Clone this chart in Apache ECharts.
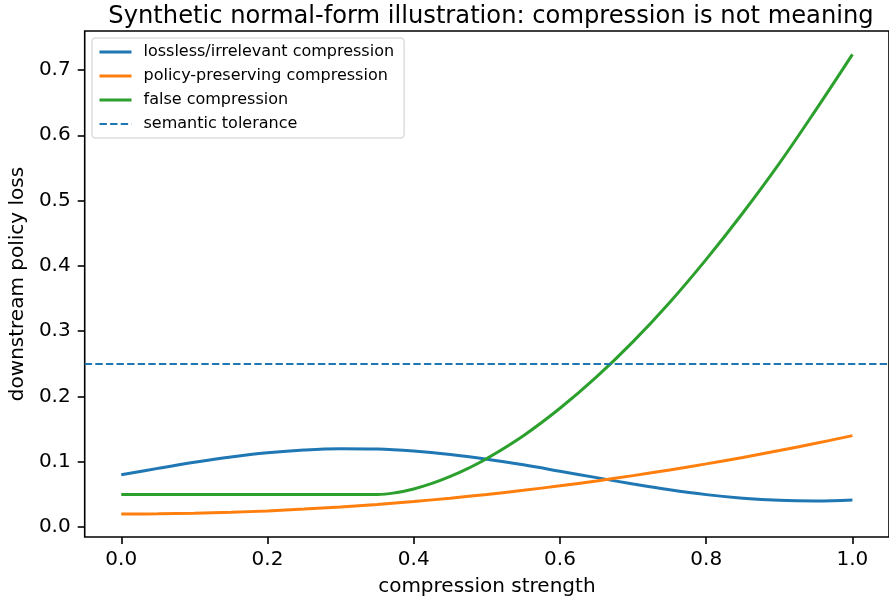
<!DOCTYPE html>
<html>
<head>
<meta charset="utf-8">
<script src="https://cdn.jsdelivr.net/npm/echarts@6/dist/echarts.min.js"></script>
<style>
  html, body { margin: 0; padding: 0; background: #fff; }
  #chart { width: 889px; height: 603px; }
</style>
</head>
<body>
<div id="chart"></div>
<script>
// values
const strength = [0, 0.05, 0.1, 0.15, 0.2, 0.25, 0.3, 0.35, 0.4, 0.45, 0.5,
  0.55, 0.6, 0.65, 0.7, 0.75, 0.8, 0.85, 0.9, 0.95, 1.0];
const losslessLoss = [0.080, 0.0899, 0.0992, 0.1073, 0.1137, 0.1180, 0.1199, 0.1194, 0.1164, 0.1111, 0.1039,
  0.0953, 0.0856, 0.0757, 0.0660, 0.0571, 0.0497, 0.0442, 0.0409, 0.0400, 0.0416];
const policyLoss = [0.020, 0.0203, 0.0212, 0.0227, 0.0248, 0.0275, 0.0308, 0.0347, 0.0392, 0.0443, 0.050,
  0.0563, 0.0632, 0.0707, 0.0788, 0.0875, 0.0968, 0.1067, 0.1172, 0.1283, 0.140];
// the false-compression curve bends near 0.35, so it is read at a finer step there
const falseStrength = [0, 0.1, 0.2, 0.3, 0.35, 0.375, 0.4, 0.425, 0.45, 0.475, 0.5,
  0.55, 0.6, 0.65, 0.7, 0.75, 0.8, 0.85, 0.9, 0.95, 1.0];
const falseLoss = [0.05, 0.05, 0.05, 0.05, 0.05, 0.0526, 0.0584, 0.0668, 0.0775, 0.0903, 0.105,
  0.140, 0.182, 0.230, 0.284, 0.344, 0.410, 0.481, 0.557, 0.639, 0.724];
const tolerance = 0.25;
const xTicks = [0, 0.2, 0.4, 0.6, 0.8, 1.0];
const yTicks = [0, 0.1, 0.2, 0.3, 0.4, 0.5, 0.6, 0.7];

const font = 'DejaVu Sans';
const pairs = (xs, ys) => xs.map((x, i) => [x, ys[i]]);

function lineSeries (name, color, xs, ys) {
  return {
    name: name,
    type: 'line',
    symbol: 'none',
    smooth: 0.4,
    data: pairs(xs, ys),
    color: color,
    lineStyle: { color: color, width: 3 }
  };
}

const chart = echarts.init(document.getElementById('chart'), null, { renderer: 'canvas' });

const option = {
  animation: false,
  backgroundColor: '#fff',
  title: {
    text: 'Synthetic normal-form illustration: compression is not meaning',
    left: 486,
    top: 0,
    textAlign: 'center',
    textStyle: { fontFamily: font, fontSize: 24.2, fontWeight: 'normal', color: '#000' }
  },
  grid: {
    left: 84,
    top: 31,
    width: 812,
    height: 506,
    show: true,
    borderColor: '#000',
    borderWidth: 1.6,
    backgroundColor: 'transparent'
  },
  legend: {
    orient: 'vertical',
    left: 92,
    top: 38,
    padding: [6, 10, 6, 6],
    itemWidth: 32,
    itemHeight: 16,
    itemGap: 8,
    itemStyle: { opacity: 0 },
    backgroundColor: 'rgba(255,255,255,0.8)',
    borderColor: '#cccccc',
    borderWidth: 1,
    borderRadius: 3,
    textStyle: { fontFamily: font, fontSize: 16, lineHeight: 16, color: '#000', padding: [0, 0, 0, 7] },
    data: [
      { name: 'lossless/irrelevant compression', lineStyle: { width: 3 } },
      { name: 'policy-preserving compression', lineStyle: { width: 3 } },
      { name: 'false compression', lineStyle: { width: 3 } },
      { name: 'semantic tolerance', lineStyle: { width: 2 } }
    ]
  },
  xAxis: {
    type: 'value',
    min: -0.05,
    max: 1.05,
    name: 'compression strength',
    nameLocation: 'middle',
    nameGap: 40,
    nameTextStyle: { fontFamily: font, fontSize: 20, color: '#000' },
    axisLine: { show: false, onZero: false },
    splitLine: { show: false },
    axisTick: { show: true, length: 7, customValues: xTicks, lineStyle: { color: '#000', width: 1.6 } },
    axisLabel: {
      customValues: xTicks,
      margin: 13,
      fontFamily: font,
      fontSize: 20,
      color: '#000',
      formatter: v => v.toFixed(1)
    }
  },
  yAxis: {
    type: 'value',
    min: -0.0152,
    max: 0.7597,
    name: 'downstream policy loss',
    nameLocation: 'middle',
    nameGap: 52,
    nameTextStyle: { fontFamily: font, fontSize: 20, color: '#000' },
    axisLine: { show: false, onZero: false },
    splitLine: { show: false },
    axisTick: { show: true, length: 7, customValues: yTicks, lineStyle: { color: '#000', width: 1.6 } },
    axisLabel: {
      customValues: yTicks,
      margin: 14,
      fontFamily: font,
      fontSize: 20,
      color: '#000',
      formatter: v => v.toFixed(1)
    }
  },
  series: [
    lineSeries('lossless/irrelevant compression', '#1f77b4', strength, losslessLoss),
    lineSeries('policy-preserving compression', '#ff7f0e', strength, policyLoss),
    lineSeries('false compression', '#2ca02c', falseStrength, falseLoss),
    {
      name: 'semantic tolerance',
      type: 'line',
      symbol: 'none',
      data: [],
      color: '#1f77b4',
      lineStyle: { color: '#1f77b4', width: 2, type: [7.4, 3.2] },
      markLine: {
        silent: true,
        symbol: ['none', 'none'],
        label: { show: false },
        lineStyle: { color: '#1f77b4', width: 2, type: [7.4, 3.2] },
        data: [{ yAxis: tolerance }]
      }
    }
  ]
};

chart.setOption(option);
</script>
</body>
</html>
